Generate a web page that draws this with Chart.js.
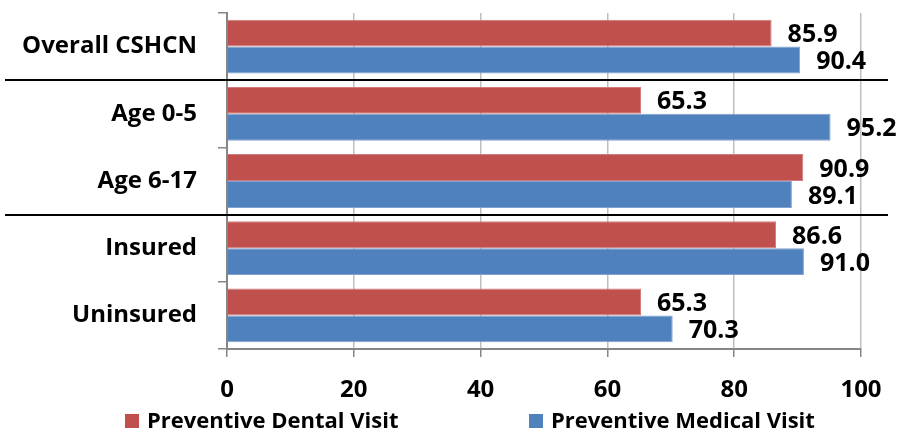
<!DOCTYPE html>
<html>
<head>
<meta charset="utf-8">
<script src="https://cdn.jsdelivr.net/npm/chart.js@4/dist/chart.umd.min.js"></script>
<style>
  html, body { margin: 0; padding: 0; background: #ffffff; }
  #wrap { width: 901px; height: 432px; }
</style>
</head>
<body>
<div id="wrap"><canvas id="c" width="901" height="432"></canvas></div>
<script>
// Share of CSHCN with a preventive visit (%), by subgroup
const categories   = ['Overall CSHCN', 'Age 0-5', 'Age 6-17', 'Insured', 'Uninsured'];
const dentalVisit  = [85.9, 65.3, 90.9, 86.6, 65.3];
const medicalVisit = [90.4, 95.2, 89.1, 91.0, 70.3];
const seriesNames  = ['Preventive Dental Visit', 'Preventive Medical Visit'];
const xTicks       = [0, 20, 40, 60, 80, 100];
// a black rule separates the groups before these categories
const groupBreaks  = [1, 3];

const FONT = '"Open Sans", "DejaVu Sans", sans-serif';

// value written just past the end of every bar
const valueLabels = {
  id: 'valueLabels',
  afterDatasetsDraw(chart) {
    const ctx = chart.ctx;
    ctx.save();
    ctx.font = 'bold 25px ' + FONT;
    ctx.fillStyle = '#000';
    ctx.textAlign = 'left';
    ctx.textBaseline = 'middle';
    chart.data.datasets.forEach((ds, i) => {
      chart.getDatasetMeta(i).data.forEach((bar, j) => {
        ctx.fillText(ds.data[j].toFixed(1), bar.x + 16, bar.y + 2);
      });
    });
    ctx.restore();
  }
};

// horizontal rules between category groups
const groupRules = {
  id: 'groupRules',
  afterDraw(chart) {
    const ctx = chart.ctx;
    const y = chart.scales.y;
    ctx.save();
    ctx.strokeStyle = '#000';
    ctx.lineWidth = 2;
    groupBreaks.forEach(k => {
      const py = Math.round((y.getPixelForValue(k - 1) + y.getPixelForValue(k)) / 2);
      ctx.beginPath();
      ctx.moveTo(5, py);
      ctx.lineTo(888, py);
      ctx.stroke();
    });
    ctx.restore();
  }
};

// legend row under the axis
const bottomLegend = {
  id: 'bottomLegend',
  afterDraw(chart) {
    const ctx = chart.ctx;
    const starts = [125, 529];
    const cy = 421;
    ctx.save();
    ctx.font = 'bold 22px ' + FONT;
    ctx.textBaseline = 'middle';
    ctx.textAlign = 'left';
    chart.data.datasets.forEach((ds, i) => {
      const x = starts[i];
      ctx.fillStyle = ds.backgroundColor;
      ctx.fillRect(x, cy - 7, 14, 14);
      ctx.fillStyle = '#000';
      ctx.fillText(ds.label, x + 22, cy + 1);
    });
    ctx.restore();
  }
};

function draw() {
  new Chart(document.getElementById('c'), {
    type: 'bar',
    data: {
      labels: categories,
      datasets: [
        {
          label: seriesNames[0],
          data: dentalVisit,
          backgroundColor: '#C0504D',
          borderColor: '#CF7C7A',
          borderWidth: 1,
          categoryPercentage: 0.8,
          barPercentage: 1.0
        },
        {
          label: seriesNames[1],
          data: medicalVisit,
          backgroundColor: '#4F81BD',
          borderColor: '#7FA2D0',
          borderWidth: 1,
          categoryPercentage: 0.8,
          barPercentage: 1.0
        }
      ]
    },
    options: {
      indexAxis: 'y',
      responsive: false,
      animation: false,
      layout: { padding: { top: 13, right: 40, left: 0, bottom: 0 } },
      plugins: {
        legend: { display: false },
        tooltip: { enabled: false }
      },
      scales: {
        x: {
          min: 0,
          max: 100,
          afterBuildTicks: s => { s.ticks = xTicks.map(v => ({ value: v })); },
          afterFit: s => { s.height = 83; s.paddingLeft = 0; s.paddingRight = 0; },
          grid: {
            color: '#BFBFBF',
            lineWidth: 1.5,
            tickLength: 8,
            tickColor: '#868686'
          },
          border: { color: '#868686', width: 2 },
          ticks: {
            color: '#000',
            padding: 19,
            font: { family: FONT, size: 24, weight: 'bold' }
          }
        },
        y: {
          afterFit: s => { s.width = 227; s.paddingTop = 0; s.paddingBottom = 0; },
          grid: {
            drawOnChartArea: false,
            offset: true,
            tickLength: 9,
            tickColor: '#868686',
            lineWidth: 1.5
          },
          border: { color: '#868686', width: 2 },
          ticks: {
            color: '#000',
            padding: 21,
            font: { family: FONT, size: 24, weight: 'bold' }
          }
        }
      }
    },
    plugins: [valueLabels, groupRules, bottomLegend]
  });
}

document.fonts.load('bold 24px "Open Sans"').then(draw, draw);
</script>
</body>
</html>
